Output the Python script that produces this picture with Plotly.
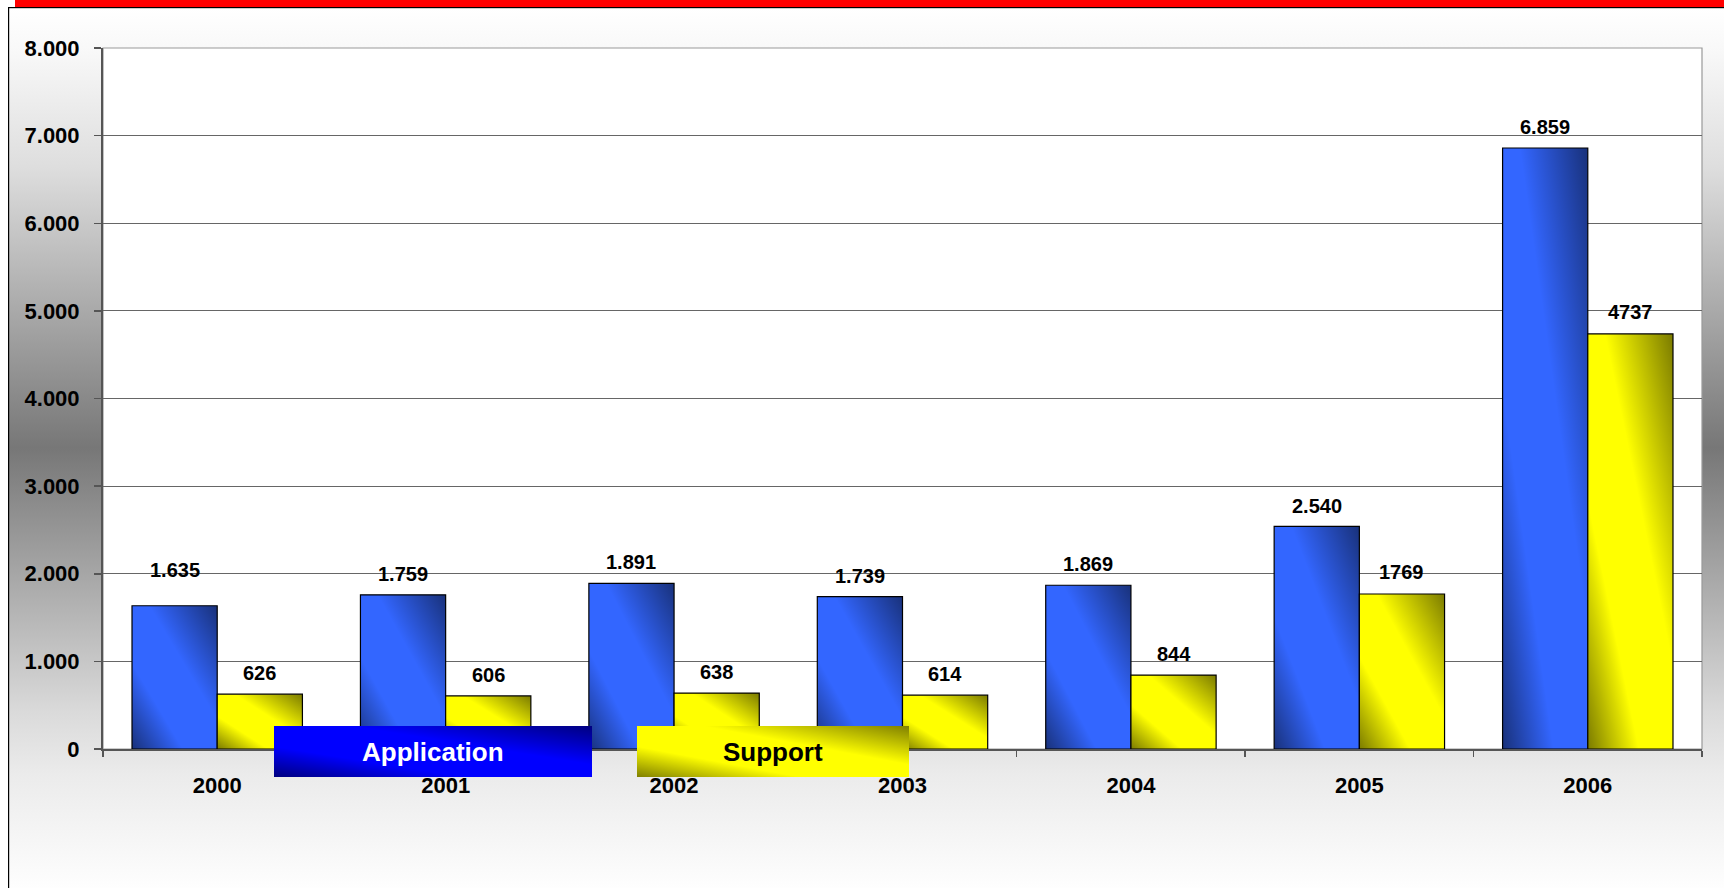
import base64
import plotly.graph_objects as go

# ---------------- data ----------------
years = ["2000", "2001", "2002", "2003", "2004", "2005", "2006"]
application = [1635, 1759, 1891, 1739, 1869, 2540, 6859]
support = [626, 606, 638, 614, 844, 1769, 4737]
y_ticks = [0, 1000, 2000, 3000, 4000, 5000, 6000, 7000, 8000]
series_names = ["Application", "Support"]

# ---------------- layout constants (pixels) ----------------
W, H = 1724, 888
ML, MR, MT, MB = 103, 22, 48, 139
PW = W - ML - MR
PH = H - MT - MB
BARGAP = 0.254
BW = (1 - BARGAP) / 2          # width of one bar in category units
LABEL_LIFT_APP = [36, 21, 21, 21, 21, 20, 21]
LABEL_LIFT_SUP = [21, 21, 21, 21, 21, 22, 22]
FONT = "Liberation Sans, Arial, Helvetica, sans-serif"

BLUE = "#3366ff"
YELLOW = "#ffff00"


def px_x(px):
    return (px - ML) / PW


def px_y(py):
    return (H - MB - py) / PH


def svg_uri(s):
    return "data:image/svg+xml;base64," + base64.b64encode(s.encode("utf-8")).decode("ascii")


# background: frame, red top band and vertical gray gradient
bg_svg = f"""<svg xmlns='http://www.w3.org/2000/svg' width='{W}' height='{H}' viewBox='0 0 {W} {H}'>
<defs><linearGradient id='g' x1='0' y1='0' x2='0' y2='1'>
<stop offset='0' stop-color='#ffffff'/>
<stop offset='0.05' stop-color='#f8f8f8'/>
<stop offset='0.18' stop-color='#dedede'/>
<stop offset='0.5' stop-color='#777777'/>
<stop offset='0.8' stop-color='#dadada'/>
<stop offset='0.87' stop-color='#ebebeb'/>
<stop offset='1' stop-color='#fefefe'/>
</linearGradient></defs>
<rect width='{W}' height='{H}' fill='#ffffff'/>
<rect x='8' y='8' width='{W-8}' height='{H-8}' fill='url(#g)'/>
<rect x='15' y='0' width='{W-15}' height='7' fill='#ff0000'/>
<rect x='8' y='7' width='{W-8}' height='1.2' fill='#000000'/>
<rect x='8' y='7' width='1.2' height='{H-7}' fill='#000000'/>
</svg>"""

# diagonal shading used on bars (dark corners, bright middle)
shade_svg = """<svg xmlns='http://www.w3.org/2000/svg' width='200' height='200' viewBox='0 0 200 200'>
<defs><linearGradient id='s' x1='0' y1='1' x2='1' y2='0'>
<stop offset='0' stop-color='#000' stop-opacity='0.52'/>
<stop offset='0.3' stop-color='#000' stop-opacity='0'/>
<stop offset='0.6' stop-color='#000' stop-opacity='0'/>
<stop offset='1' stop-color='#000' stop-opacity='0.52'/>
</linearGradient></defs>
<rect width='200' height='200' fill='url(#s)'/>
</svg>"""


def box_svg(color):
    return f"""<svg xmlns='http://www.w3.org/2000/svg' width='320' height='52' viewBox='0 0 320 52'>
<defs><linearGradient id='b' x1='0' y1='1' x2='1' y2='0'>
<stop offset='0' stop-color='#000' stop-opacity='0.5'/>
<stop offset='0.3' stop-color='#000' stop-opacity='0'/>
<stop offset='0.62' stop-color='#000' stop-opacity='0'/>
<stop offset='1' stop-color='#000' stop-opacity='0.5'/>
</linearGradient></defs>
<rect width='320' height='52' fill='{color}'/>
<rect width='320' height='52' fill='url(#b)'/>
</svg>"""


fig = go.Figure()
fig.add_bar(
    x=years, y=application, name=series_names[0],
    marker=dict(color=BLUE, line=dict(color="#000000", width=1.2)),
    showlegend=False,
)
fig.add_bar(
    x=years, y=support, name=series_names[1],
    marker=dict(color=YELLOW, line=dict(color="#000000", width=1.2)),
    showlegend=False,
)

images = [
    dict(source=svg_uri(bg_svg), xref="paper", yref="paper",
         x=px_x(0), y=px_y(0), sizex=W / PW, sizey=H / PH,
         xanchor="left", yanchor="top", sizing="stretch", layer="below"),
]
shade_uri = svg_uri(shade_svg)
for i, v in enumerate(application):
    images.append(dict(source=shade_uri, xref="x", yref="y", x=i - BW, y=v,
                       sizex=BW, sizey=v, xanchor="left", yanchor="top",
                       sizing="stretch", layer="above"))
for i, v in enumerate(support):
    images.append(dict(source=shade_uri, xref="x", yref="y", x=i, y=v,
                       sizex=BW, sizey=v, xanchor="left", yanchor="top",
                       sizing="stretch", layer="above"))

# legend boxes
legend_boxes = [
    (series_names[0], "#0000ff", "#ffffff", 274, 592, 726, 777),
    (series_names[1], "#ffff00", "#000000", 637, 909, 726, 777),
]
annotations = []
for name, col, tcol, x0, x1, y0, y1 in legend_boxes:
    images.append(dict(source=svg_uri(box_svg(col)), xref="paper", yref="paper",
                       x=px_x(x0), y=px_y(y0), sizex=(x1 - x0) / PW, sizey=(y1 - y0) / PH,
                       xanchor="left", yanchor="top", sizing="stretch", layer="above"))
    annotations.append(dict(text=name, xref="paper", yref="paper",
                            x=px_x((x0 + x1) / 2), y=px_y((y0 + y1) / 2),
                            xanchor="center", yanchor="middle", showarrow=False,
                            font=dict(family=FONT, size=26, color=tcol, weight="bold")))

# value labels
for i, v in enumerate(application):
    annotations.append(dict(text=f"{v:,}".replace(",", "."), x=i - BW / 2, y=v,
                            xref="x", yref="y", yshift=LABEL_LIFT_APP[i],
                            xanchor="center", yanchor="middle", showarrow=False,
                            font=dict(family=FONT, size=20, color="#000", weight="bold")))
for i, v in enumerate(support):
    annotations.append(dict(text=str(v), x=i + BW / 2, y=v,
                            xref="x", yref="y", yshift=LABEL_LIFT_SUP[i],
                            xanchor="center", yanchor="middle", showarrow=False,
                            font=dict(family=FONT, size=20, color="#000", weight="bold")))

fig.update_layout(
    width=W, height=H,
    margin=dict(l=ML, r=MR, t=MT, b=MB, pad=0),
    paper_bgcolor="#ffffff", plot_bgcolor="#ffffff",
    barmode="group", bargap=BARGAP, bargroupgap=0,
    separators=",.",
    showlegend=False,
    font=dict(family=FONT, color="#000"),
    images=images,
    annotations=annotations,
    shapes=[dict(type="rect", xref="x domain", yref="y domain", x0=0, x1=1, y0=0, y1=1,
                 fillcolor="#ffffff", line=dict(color="#999999", width=1.2), layer="below")],
    xaxis=dict(
        type="category", range=[-0.5, len(years) - 0.5],
        tickson="boundaries", ticks="outside", ticklen=6, tickwidth=1.5, tickcolor="#555555",
        showline=True, linecolor="#555555", linewidth=2, showgrid=False, zeroline=False,
        tickfont=dict(family=FONT, size=22, color="#000", weight="bold"),
        ticklabelstandoff=16,
    ),
    yaxis=dict(
        range=[0, 8000], tickvals=y_ticks, tickformat=",d",
        showgrid=True, gridcolor="#666666", gridwidth=1,
        showline=True, linecolor="#555555", linewidth=2, zeroline=False,
        ticks="outside", ticklen=7, tickwidth=1.5, tickcolor="#555555",
        tickfont=dict(family=FONT, size=22, color="#000", weight="bold"),
        ticklabelstandoff=10,
    ),
)

fig.write_html(
    "out.html",
    config={"displayModeBar": False, "staticPlot": True},
    post_script="document.body.style.margin='0px';"
                "document.documentElement.style.overflow='hidden';",
)
